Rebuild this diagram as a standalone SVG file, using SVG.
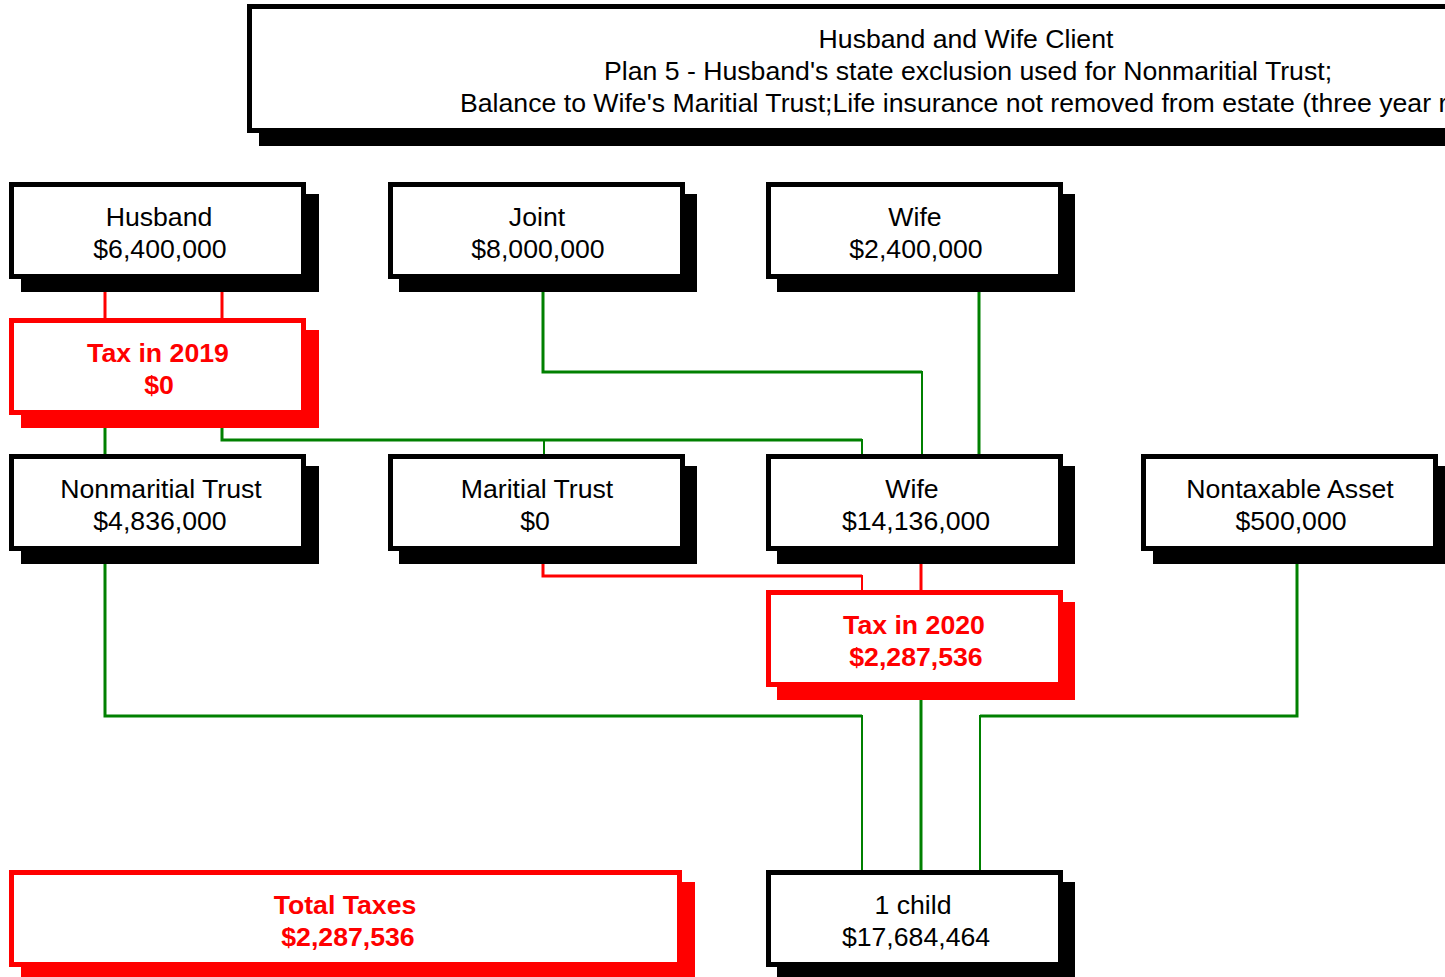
<svg xmlns="http://www.w3.org/2000/svg" width="1445" height="977" viewBox="0 0 1445 977">
<style>
.sh{fill:#000}
.shr{fill:#ff0000}
.bx{fill:#fff;stroke:#000;stroke-width:5}
.bxr{fill:#fff;stroke:#ff0000;stroke-width:5}
text{font-family:"Liberation Sans",Arial,sans-serif;font-size:26.67px;text-anchor:middle;fill:#000}
.rt{fill:#ff0000;font-weight:bold}
.g{fill:none;stroke:#008000;stroke-width:3}
.gt{fill:none;stroke:#008000;stroke-width:2}
.r{fill:none;stroke:#ff0000;stroke-width:3}
.rn{fill:none;stroke:#ff0000;stroke-width:2}
</style>
<rect width="1445" height="977" fill="#fff"/>
<g id="connectors">
<line class="r" x1="105" y1="290" x2="105" y2="320"/>
<line class="r" x1="222" y1="290" x2="222" y2="320"/>
<path class="r" d="M543 562 V576 H862"/>
<line class="rn" x1="862" y1="575" x2="862" y2="592"/>
<line class="r" x1="921" y1="562" x2="921" y2="592"/>
<line class="g" x1="105" y1="426" x2="105" y2="456"/>
<path class="g" d="M222 426 V440 H862"/>
<line class="gt" x1="862" y1="439" x2="862" y2="456"/>
<line class="gt" x1="544" y1="440" x2="544" y2="456"/>
<path class="g" d="M543 290 V372 H922"/>
<line class="gt" x1="922" y1="371" x2="922" y2="456"/>
<line class="g" x1="979" y1="290" x2="979" y2="456"/>
<path class="g" d="M105 562 V716 H862"/>
<line class="gt" x1="862" y1="715" x2="862" y2="872"/>
<line class="g" x1="921" y1="698" x2="921" y2="872"/>
<path class="g" d="M1297 562 V716 H980"/>
<line class="gt" x1="980" y1="715" x2="980" y2="872"/>
</g>
<g id="title">
<rect class="sh" x="259" y="16" width="1200" height="130"/>
<rect class="bx" x="249.5" y="6.5" width="1220" height="124"/>
<text x="966" y="48">Husband and Wife Client</text>
<text x="968" y="80">Plan 5 - Husband's state exclusion used for Nonmaritial Trust;</text>
<text x="460" y="112" style="text-anchor:start">Balance to Wife's Maritial Trust;Life insurance not removed from estate (three year rule)</text>
</g>
<g id="husband">
<rect class="sh" x="21" y="194" width="298" height="98"/>
<rect class="bx" x="11.5" y="184.5" width="292" height="92"/>
<text x="159" y="226">Husband</text>
<text x="160" y="258">$6,400,000</text>
</g>
<g id="joint">
<rect class="sh" x="399" y="194" width="298" height="98"/>
<rect class="bx" x="390.5" y="184.5" width="292" height="92"/>
<text x="537" y="226">Joint</text>
<text x="538" y="258">$8,000,000</text>
</g>
<g id="wife">
<rect class="sh" x="777" y="194" width="298" height="98"/>
<rect class="bx" x="768.5" y="184.5" width="292" height="92"/>
<text x="915" y="226">Wife</text>
<text x="916" y="258">$2,400,000</text>
</g>
<g id="tax2019">
<rect class="shr" x="21" y="330" width="298" height="98"/>
<rect class="bxr" x="11.5" y="320.5" width="292" height="92"/>
<text class="rt" x="158" y="362">Tax in 2019</text>
<text class="rt" x="159" y="394">$0</text>
</g>
<g id="nonmaritial">
<rect class="sh" x="21" y="466" width="298" height="98"/>
<rect class="bx" x="11.5" y="456.5" width="292" height="92"/>
<text x="161" y="498">Nonmaritial Trust</text>
<text x="160" y="530">$4,836,000</text>
</g>
<g id="maritial">
<rect class="sh" x="399" y="466" width="298" height="98"/>
<rect class="bx" x="390.5" y="456.5" width="292" height="92"/>
<text x="537" y="498">Maritial Trust</text>
<text x="535" y="530">$0</text>
</g>
<g id="wife2">
<rect class="sh" x="777" y="466" width="298" height="98"/>
<rect class="bx" x="768.5" y="456.5" width="292" height="92"/>
<text x="912" y="498">Wife</text>
<text x="916" y="530">$14,136,000</text>
</g>
<g id="nontaxable">
<rect class="sh" x="1153" y="466" width="298" height="98"/>
<rect class="bx" x="1143.5" y="456.5" width="292" height="92"/>
<text x="1290" y="498">Nontaxable Asset</text>
<text x="1291" y="530">$500,000</text>
</g>
<g id="tax2020">
<rect class="shr" x="777" y="602" width="298" height="98"/>
<rect class="bxr" x="768.5" y="592.5" width="292" height="92"/>
<text class="rt" x="914" y="634">Tax in 2020</text>
<text class="rt" x="916" y="666">$2,287,536</text>
</g>
<g id="totaltaxes">
<rect class="shr" x="21" y="882" width="674" height="98"/>
<rect class="bxr" x="11.5" y="872.5" width="668" height="92"/>
<text class="rt" x="345" y="914">Total Taxes</text>
<text class="rt" x="348" y="946">$2,287,536</text>
</g>
<g id="child">
<rect class="sh" x="777" y="882" width="298" height="98"/>
<rect class="bx" x="768.5" y="872.5" width="292" height="92"/>
<text x="913" y="914">1 child</text>
<text x="916" y="946">$17,684,464</text>
</g>
</svg>
